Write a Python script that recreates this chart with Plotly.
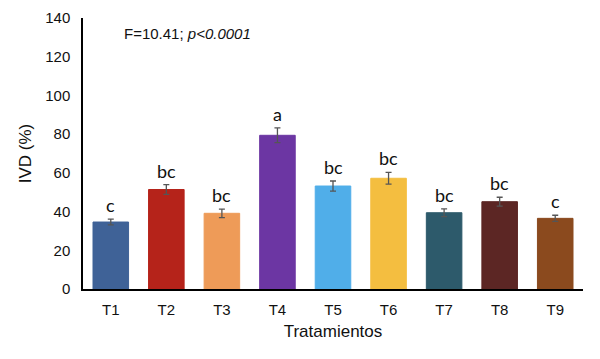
import plotly.graph_objects as go

categories = ["T1", "T2", "T3", "T4", "T5", "T6", "T7", "T8", "T9"]
values = [34.6, 51.4, 39.1, 79.4, 53.2, 57.2, 39.4, 45.1, 36.5]
errors = [1.5, 2.5, 2.2, 3.8, 2.6, 3.0, 2.0, 2.3, 1.6]
letters = ["c", "bc", "bc", "a", "bc", "bc", "bc", "bc", "c"]
colors = ["#3F6297", "#B5231A", "#EE9B58", "#6C36A3", "#50AEE9",
          "#F4BE40", "#2D5A6B", "#5C2624", "#8B4A1E"]
y_ticks = [0, 20, 40, 60, 80, 100, 120, 140]

fig = go.Figure()
fig.add_trace(go.Bar(
    x=categories, y=values,
    marker=dict(color=colors, line=dict(color=colors, width=1)),
    error_y=dict(type="data", array=errors, color="#555555", thickness=1.3, width=3),
    width=0.64,
    showlegend=False,
))

for c, v, e, l in zip(categories, values, errors, letters):
    fig.add_annotation(x=c, y=v + e, text=l, showarrow=False, yanchor="bottom",
                       yshift=1, font=dict(family="Lato, Open Sans, sans-serif", size=18, color="#111111"))

fig.add_annotation(xref="paper", yref="paper", x=0.078, y=0.982, xanchor="left", yanchor="top",
                   text="F=10.41; <i>p<0.0001</i>", showarrow=False,
                   font=dict(family="Liberation Sans, Arial, sans-serif", size=15, color="#111111"))

fig.update_layout(
    width=592, height=351,
    margin=dict(l=75, r=17, t=10, b=70),
    plot_bgcolor="white", paper_bgcolor="white",
    font=dict(family="Liberation Sans, Arial, sans-serif", size=15, color="#111111"),
    bargap=0.36,
)
fig.update_xaxes(showline=True, linecolor="black", linewidth=1.5, ticks="", automargin=False,
                 ticklabelstandoff=6,
                 title=dict(text="Tratamientos", font=dict(size=17), standoff=8),
                 tickfont=dict(size=15))
fig.update_yaxes(range=[0, 140], tickvals=y_ticks, showline=True, linecolor="black",
                 linewidth=1.5, showgrid=False, zeroline=False, ticks="", automargin=False,
                 ticklabelstandoff=8,
                 title=dict(text="IVD (%)", font=dict(size=17), standoff=9),
                 tickfont=dict(size=15))

fig.write_html("out.html")
